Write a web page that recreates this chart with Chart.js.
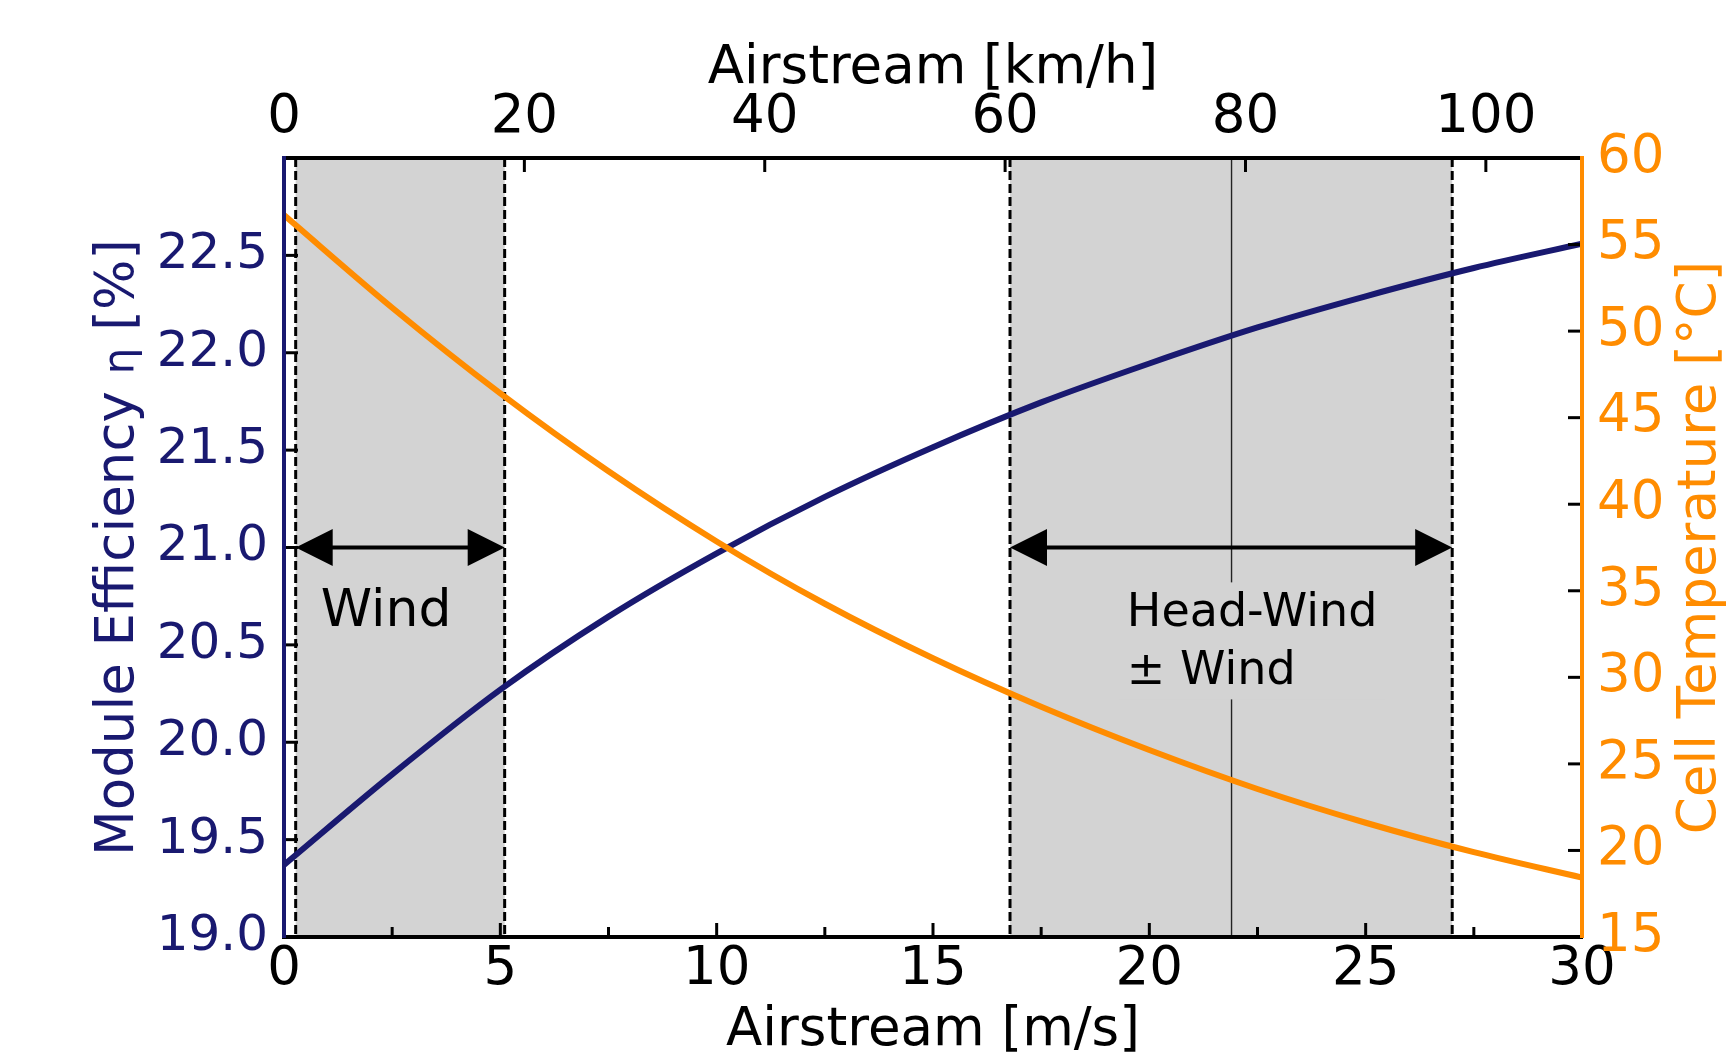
<!DOCTYPE html>
<html>
<head>
<meta charset="utf-8">
<script src="https://cdn.jsdelivr.net/npm/chart.js@4"></script>
<style>
  html, body { margin: 0; padding: 0; background: #fff; }
  #wrap { width: 1729px; height: 1059px; }
</style>
</head>
<body>
<div id="wrap"><canvas id="chart"></canvas></div>
<script>
// airstream in m/s
const airstream = [0, 2.5, 5, 7.5, 10, 12.5, 15, 17.5, 20, 22.5, 25, 27.5, 30];
const efficiency = [19.37, 19.835, 20.27, 20.645, 20.97, 21.26, 21.515, 21.745, 21.945, 22.13, 22.29, 22.435, 22.56];
const cellTemp = [56.7, 51.35, 46.4, 41.9, 37.85, 34.25, 31.1, 28.3, 25.8, 23.55, 21.6, 19.9, 18.43];

const msTicks = [0, 5, 10, 15, 20, 25, 30];
const msMinorTicks = [2.5, 7.5, 12.5, 17.5, 22.5, 27.5];
const kmhTicks = [0, 20, 40, 60, 80, 100];
const effTicks = [19.0, 19.5, 20.0, 20.5, 21.0, 21.5, 22.0, 22.5];
const tempTicks = [15, 20, 25, 30, 35, 40, 45, 50, 55, 60];

const windRange = [0.27, 5.1];
const headWindRange = [16.78, 27.0];
const headWind = [21.9];

const FONT = 'DejaVu Sans';
const NAVY = '#191970';
const ORANGE = '#ff8c00';

function line(ctx, x1, y1, x2, y2) {
  ctx.beginPath();
  ctx.moveTo(x1, y1);
  ctx.lineTo(x2, y2);
  ctx.stroke();
}

function arrow(ctx, x1, x2, y) {
  const hl = 37, hw = 18.5;
  ctx.lineWidth = 4;
  line(ctx, x1 + hl - 2, y, x2 - hl + 2, y);
  ctx.beginPath();
  ctx.moveTo(x1, y); ctx.lineTo(x1 + hl, y - hw); ctx.lineTo(x1 + hl, y + hw);
  ctx.closePath(); ctx.fill();
  ctx.beginPath();
  ctx.moveTo(x2, y); ctx.lineTo(x2 - hl, y - hw); ctx.lineTo(x2 - hl, y + hw);
  ctx.closePath(); ctx.fill();
}

function rotatedTitle(ctx, parts, bx, cy, color) {
  ctx.save();
  let total = 0;
  parts.forEach(p => { ctx.font = p.font; p.w = ctx.measureText(p.text).width; total += p.w; });
  ctx.translate(bx, cy);
  ctx.rotate(-Math.PI / 2);
  ctx.fillStyle = color;
  ctx.textAlign = 'left';
  ctx.textBaseline = 'alphabetic';
  let cx = -total / 2;
  parts.forEach(p => { ctx.font = p.font; ctx.fillText(p.text, cx, 0); cx += p.w; });
  ctx.restore();
}

const overlay = {
  id: 'overlay',
  beforeDatasetsDraw(chart) {
    const { ctx, chartArea: a, scales: { x, yEff } } = chart;
    ctx.save();
    ctx.fillStyle = '#d3d3d3';
    [windRange, headWindRange].forEach(r => {
      const x1 = x.getPixelForValue(r[0]), x2 = x.getPixelForValue(r[1]);
      ctx.fillRect(x1, a.top, x2 - x1, a.bottom - a.top);
    });

    ctx.strokeStyle = '#000';
    ctx.lineWidth = 3;
    ctx.setLineDash([9, 4]);
    windRange.concat(headWindRange).forEach(v => {
      const px = x.getPixelForValue(v);
      line(ctx, px, a.top, px, a.bottom);
    });
    ctx.setLineDash([]);

    ctx.strokeStyle = '#222';
    ctx.lineWidth = 1.4;
    headWind.forEach(v => {
      const px = x.getPixelForValue(v);
      line(ctx, px, a.top, px, a.bottom);
    });

    // box behind the head-wind text hides the line
    ctx.font = '46px ' + FONT;
    const tx = x.getPixelForValue(19.48);
    const ty = yEff.getPixelForValue(20.595);
    const tw = ctx.measureText('Head-Wind').width;
    ctx.fillStyle = '#d3d3d3';
    ctx.fillRect(tx - 8, ty - 44, tw + 16, 58 + 44 + 15);
    ctx.restore();
  },
  afterDatasetsDraw(chart) {
    const { ctx, chartArea: a, scales: { x, xTop, yEff, yTemp } } = chart;
    ctx.save();
    ctx.fillStyle = '#000';
    ctx.strokeStyle = '#000';
    const ay = yEff.getPixelForValue(21.0);
    arrow(ctx, x.getPixelForValue(windRange[0]), x.getPixelForValue(windRange[1]), ay);
    arrow(ctx, x.getPixelForValue(headWindRange[0]), x.getPixelForValue(headWindRange[1]), ay);

    ctx.textAlign = 'left';
    ctx.textBaseline = 'alphabetic';
    ctx.font = '52px ' + FONT;
    ctx.fillText('Wind', x.getPixelForValue(0.85), yEff.getPixelForValue(20.595));
    ctx.font = '46px ' + FONT;
    const tx = x.getPixelForValue(19.48);
    const ty = yEff.getPixelForValue(20.595);
    ctx.fillText('Head-Wind', tx, ty);
    ctx.fillText('\u00b1 Wind', tx, ty + 58);

    // inward tick marks
    ctx.lineWidth = 3;
    msTicks.forEach(v => { const px = x.getPixelForValue(v); line(ctx, px, a.bottom, px, a.bottom - 14); });
    msMinorTicks.forEach(v => { const px = x.getPixelForValue(v); line(ctx, px, a.bottom, px, a.bottom - 10); });
    kmhTicks.forEach(v => { const px = xTop.getPixelForValue(v); line(ctx, px, a.top, px, a.top + 14); });
    effTicks.forEach(v => { const py = yEff.getPixelForValue(v); line(ctx, a.left, py, a.left + 14, py); });
    tempTicks.forEach(v => { const py = yTemp.getPixelForValue(v); line(ctx, a.right, py, a.right - 14, py); });
    ctx.restore();

    const cy = (a.top + a.bottom) / 2;
    rotatedTitle(ctx, [
      { text: 'Module Efficiency ', font: '53px ' + FONT },
      { text: '\u03b7', font: '42px ' + FONT },
      { text: ' [%]', font: '53px ' + FONT }
    ], a.left - 151, cy, NAVY);
    rotatedTitle(ctx, [{ text: 'Cell Temperature [\u00b0C]', font: '53px ' + FONT }], a.right + 133, cy, ORANGE);
  }
};

const tickFont = { family: FONT, size: 53, lineHeight: 1 };
const noGrid = { display: false, drawTicks: false };

new Chart(document.getElementById('chart'), {
  type: 'line',
  data: {
    datasets: [{
      label: 'Cell Temperature',
      data: airstream.map((v, i) => ({ x: v, y: cellTemp[i] })),
      xAxisID: 'x',
      yAxisID: 'yTemp',
      borderColor: ORANGE,
      borderWidth: 6,
      pointRadius: 0,
      cubicInterpolationMode: 'monotone'
    }, {
      label: 'Module Efficiency',
      data: airstream.map((v, i) => ({ x: v, y: efficiency[i] })),
      xAxisID: 'x',
      yAxisID: 'yEff',
      borderColor: NAVY,
      borderWidth: 6,
      pointRadius: 0,
      cubicInterpolationMode: 'monotone'
    }]
  },
  options: {
    responsive: true,
    maintainAspectRatio: false,
    devicePixelRatio: 1,
    animation: false,
    layout: { padding: 0 },
    plugins: { legend: { display: false }, tooltip: { enabled: false } },
    scales: {
      x: {
        type: 'linear', position: 'bottom', min: 0, max: 30,
        afterBuildTicks: s => { s.ticks = msTicks.map(v => ({ value: v })); },
        afterFit: s => { s.height = 122; },
        ticks: { font: tickFont, color: '#000', padding: 6.5, autoSkip: false, maxRotation: 0 },
        grid: noGrid,
        border: { display: true, color: '#000', width: 4, z: 1 },
        title: { display: true, text: 'Airstream [m/s]', color: '#000', font: tickFont, padding: { top: 0, bottom: 1.5 } }
      },
      xTop: {
        type: 'linear', position: 'top', min: 0, max: 108,
        afterBuildTicks: s => { s.ticks = kmhTicks.map(v => ({ value: v })); },
        afterFit: s => { s.height = 158; },
        ticks: { font: tickFont, color: '#000', padding: 13, autoSkip: false, maxRotation: 0 },
        grid: noGrid,
        border: { display: true, color: '#000', width: 4, z: 1 },
        title: { display: true, text: 'Airstream [km/h]', color: '#000', font: tickFont, padding: { top: 42.5, bottom: 0 } }
      },
      yEff: {
        type: 'linear', position: 'left', min: 19, max: 23,
        afterBuildTicks: s => { s.ticks = effTicks.map(v => ({ value: v })); },
        afterFit: s => { s.width = 284; },
        ticks: { font: { family: FONT, size: 50, lineHeight: 1 }, color: NAVY, padding: 16, autoSkip: false, callback: v => v.toFixed(1) },
        grid: noGrid,
        border: { display: true, color: NAVY, width: 4, z: 1 }
      },
      yTemp: {
        type: 'linear', position: 'right', min: 15, max: 60,
        afterBuildTicks: s => { s.ticks = tempTicks.map(v => ({ value: v })); },
        afterFit: s => { s.width = 147; },
        ticks: { font: tickFont, color: ORANGE, padding: 15, autoSkip: false },
        grid: noGrid,
        border: { display: true, color: ORANGE, width: 4, z: 1 }
      }
    }
  },
  plugins: [overlay]
});
</script>
</body>
</html>
